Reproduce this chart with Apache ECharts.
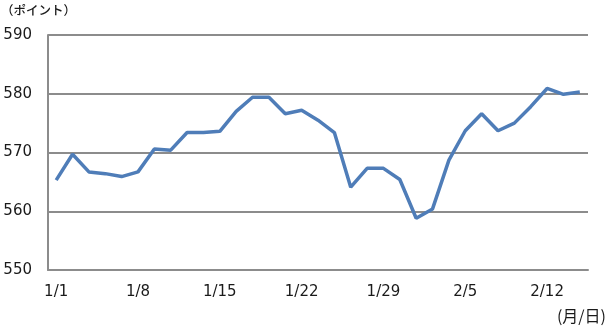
<!DOCTYPE html>
<html><head><meta charset="utf-8">
<script src="https://cdn.jsdelivr.net/npm/echarts@6/dist/echarts.min.js"></script>
<style>html,body{margin:0;padding:0;background:#fff}#c{width:607px;height:329px}</style>
</head><body><div id="c"></div>
<script>
const categories = ['1/1','1/2','1/3','1/4','1/5','1/8','1/9','1/10','1/11','1/12','1/15','1/16','1/17','1/18','1/19','1/22','1/23','1/24','1/25','1/26','1/29','1/30','1/31','2/1','2/2','2/5','2/6','2/7','2/8','2/9','2/12','2/13','2/14'];
const values = [565.3,569.7,566.7,566.4,565.9,566.7,570.6,570.4,573.4,573.4,573.6,577.0,579.4,579.4,576.6,577.2,575.5,573.4,564.1,567.3,567.3,565.4,558.8,560.4,568.7,573.7,576.6,573.7,575.0,577.8,580.9,579.9,580.3];
const yTicks = [550,560,570,580,590];
const yUnit = '（ポイント）';
const xUnit = '(月/日)';
const numFont = '"DejaVu Sans", Verdana, sans-serif';
const cjkFont = '"Noto Sans CJK JP", "Noto Sans", sans-serif';
const chart = echarts.init(document.getElementById('c'));
chart.setOption({
  animation:false,
  grid:{left:48,right:19,top:35,bottom:59},
  xAxis:{type:'category',data:categories,boundaryGap:true,
    axisLine:{lineStyle:{color:'#8c8c8c',width:2}},
    axisTick:{interval:4,length:5,lineStyle:{color:'#8c8c8c',width:1.5}},
    axisLabel:{interval:4,color:'#1a1a1a',fontSize:15,fontFamily:numFont,margin:15}},
  yAxis:{type:'value',min:yTicks[0],max:yTicks[yTicks.length-1],interval:10,
    axisLine:{show:true,lineStyle:{color:'#8c8c8c',width:2}},
    axisTick:{show:false},
    splitLine:{lineStyle:{color:'#8c8c8c',width:2}},
    axisLabel:{color:'#1a1a1a',fontSize:15,fontFamily:numFont,margin:16}},
  graphic:[
    {type:'text',left:1,top:4,style:{text:yUnit,font:'500 12.5px '+cjkFont,fill:'#1a1a1a'}},
    {type:'text',right:1,top:308,style:{text:xUnit,font:'16px '+cjkFont,fill:'#1a1a1a'}}
  ],
  series:[{type:'line',data:values,symbol:'none',lineStyle:{color:'#4f7db8',width:3.5}}]
});
</script></body></html>
